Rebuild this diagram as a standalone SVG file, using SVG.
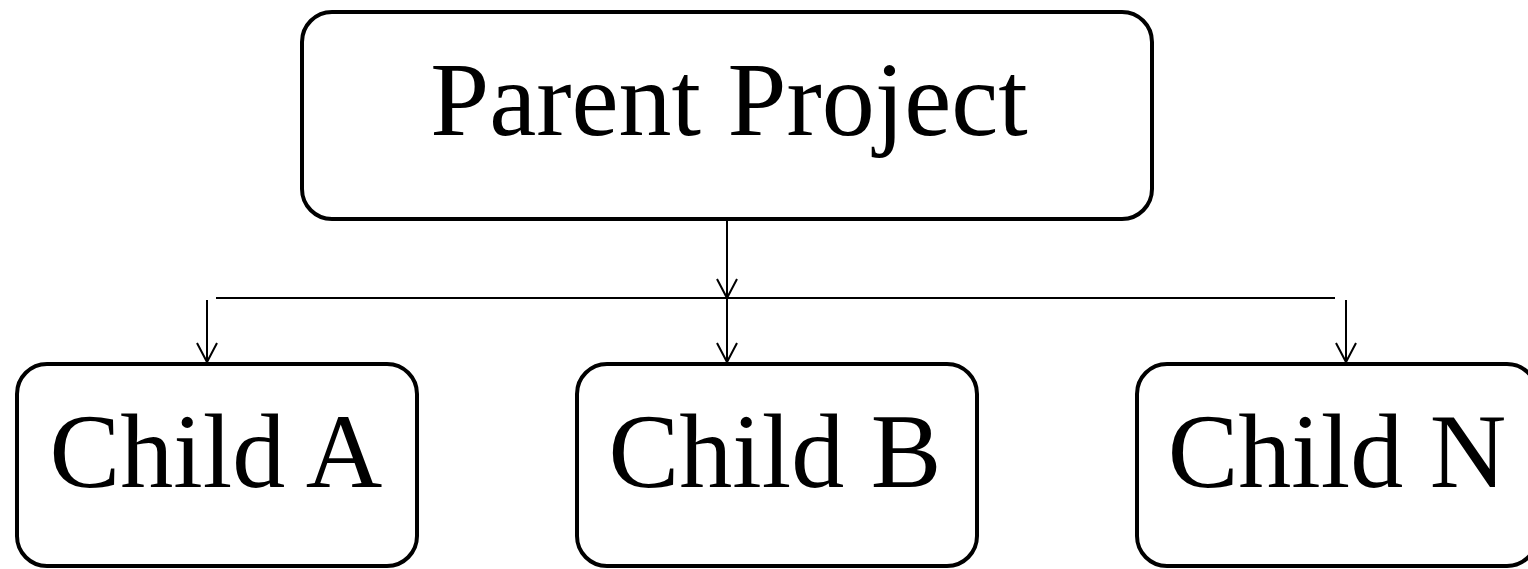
<svg xmlns="http://www.w3.org/2000/svg" width="1528" height="569" viewBox="0 0 1528 569">
<style>
.box{fill:#fff;stroke:#000;stroke-width:4}
.lbl{font-family:"Liberation Serif","Times New Roman",serif;font-size:106px;fill:#000;text-anchor:middle}
.con{fill:none;stroke:#000;stroke-width:2}
</style>
<defs>
<marker id="arr" markerWidth="26" markerHeight="26" viewBox="-22 -13 26 26" refX="0" refY="0" markerUnits="userSpaceOnUse" orient="auto" overflow="visible">
<polyline points="-19,-10 0,0 -19,10" fill="none" stroke="#000" stroke-width="2"/>
</marker>
</defs>
<rect width="1528" height="569" fill="#fff"/>
<g id="connectors">
<line class="con" x1="216" y1="298" x2="1335" y2="298"/>
<line class="con" x1="727" y1="221" x2="727" y2="298" marker-end="url(#arr)"/>
<line class="con" x1="207" y1="300" x2="207" y2="362" marker-end="url(#arr)"/>
<line class="con" x1="727" y1="298" x2="727" y2="362" marker-end="url(#arr)"/>
<line class="con" x1="1346" y1="300" x2="1346" y2="362" marker-end="url(#arr)"/>
</g>
<g id="parent">
<rect class="box" x="302" y="12" width="850" height="207" rx="30" ry="30"/>
<text class="lbl" x="729" y="135">Parent Project</text>
</g>
<g id="childA">
<rect class="box" x="17" y="364" width="400" height="202" rx="30" ry="30"/>
<text class="lbl" x="216" y="487">Child A</text>
</g>
<g id="childB">
<rect class="box" x="577" y="364" width="400" height="202" rx="30" ry="30"/>
<text class="lbl" x="775" y="487">Child B</text>
</g>
<g id="childN">
<rect class="box" x="1137" y="364" width="400" height="202" rx="30" ry="30"/>
<text class="lbl" x="1337" y="487">Child N</text>
</g>
</svg>
